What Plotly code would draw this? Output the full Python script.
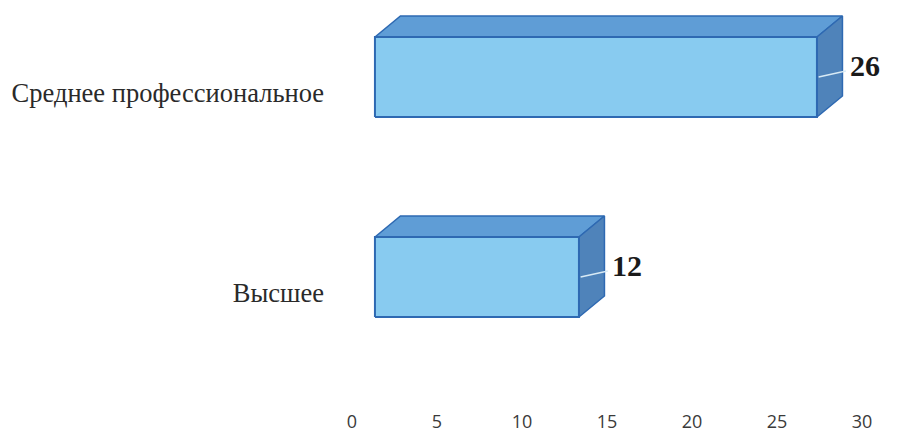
import plotly.graph_objects as go

categories = ["Высшее", "Среднее профессиональное"]
values = [12, 26]
x_ticks = [0, 5, 10, 15, 20, 25, 30]

# 3D styling constants (in axis units)
X0 = 1.35      # front-face start (perspective shift)
DX = 1.5       # depth shift in x
DY = 0.105     # depth shift in y
H = 0.40       # bar thickness
OFF = 0.08     # front-face vertical offset from category position

FRONT = "#88CBF0"
TOP = "#5F9DD6"
SIDE = "#4F83BA"
EDGE = "#2E69B2"

fig = go.Figure()

for i, (cat, v) in enumerate(zip(categories, values)):
    yc = i + OFF
    bot, top = yc - H / 2, yc + H / 2
    x1 = X0 + v
    # top face
    fig.add_trace(go.Scatter(
        x=[X0, x1, x1 + DX, X0 + DX, X0], y=[top, top, top + DY, top + DY, top],
        fill="toself", fillcolor=TOP, mode="lines", line=dict(color=EDGE, width=1.5),
        hoverinfo="skip", showlegend=False))
    # side face
    fig.add_trace(go.Scatter(
        x=[x1, x1 + DX, x1 + DX, x1, x1], y=[bot, bot + DY, top + DY, top, bot],
        fill="toself", fillcolor=SIDE, mode="lines", line=dict(color=EDGE, width=1.5),
        hoverinfo="skip", showlegend=False))
    # front face
    fig.add_trace(go.Scatter(
        x=[X0, x1, x1, X0, X0], y=[bot, bot, top, top, bot],
        fill="toself", fillcolor=FRONT, mode="lines", line=dict(color=EDGE, width=2),
        hoverinfo="skip", showlegend=False))
    # leader line
    fig.add_trace(go.Scatter(
        x=[x1 + 0.1, x1 + DX + 0.2], y=[yc, yc + 0.03], mode="lines",
        line=dict(color="#D8EAF5", width=1.5), hoverinfo="skip", showlegend=False))
    # value label
    fig.add_trace(go.Scatter(
        x=[x1 + DX + 0.45], y=[yc + 0.045], mode="text", text=[f"<b>{v}</b>"],
        textposition="middle right", cliponaxis=False,
        textfont=dict(family="Liberation Serif", size=30, color="#1a1a1a"),
        hoverinfo="skip", showlegend=False))

fig.update_layout(
    width=898, height=433,
    margin=dict(l=344, r=44, t=0, b=32),
    paper_bgcolor="white", plot_bgcolor="white",
    xaxis=dict(range=[0, 30], tickvals=x_ticks, showgrid=False, zeroline=False,
               showline=False, ticks="",
               tickfont=dict(family="Open Sans", size=18, color="#3a3a3a")),
    yaxis=dict(range=[-0.58, 1.425], tickvals=[0, 1], ticktext=categories,
               showgrid=False, zeroline=False, showline=False, ticks="",
               ticklabelstandoff=27,
               tickfont=dict(family="Liberation Serif", size=26.5, color="#2a2a2a")),
)

fig.write_html("out.html")
